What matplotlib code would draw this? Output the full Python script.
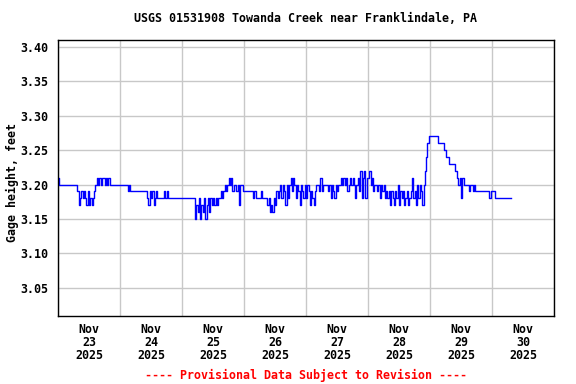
import numpy as np
import matplotlib
matplotlib.use("Agg")
import matplotlib.pyplot as plt
import matplotlib.dates as mdates

# gage height readings, every 30 minutes from Nov 23 00:00,
# stored as hundredths of a foot above 3.00 ft
nov23 = [21, 20, 20, 20, 20, 20, 20, 20, 20, 20, 20, 20, 20, 20, 20, 19,
         17, 18, 19, 18, 19, 18, 17, 19, 17, 18, 17, 18, 19, 20, 21, 20,
         21, 20, 21, 21, 20, 21, 20, 21, 20, 20, 20, 20, 20, 20, 20, 20]
nov24 = [20, 20, 20, 20, 20, 20, 19, 20, 19, 19, 19, 19, 19, 19, 19, 19,
         19, 19, 19, 19, 19, 18, 17, 19, 18, 19, 17, 18, 19, 18, 18, 18,
         18, 18, 19, 18, 19, 18, 18, 18, 18, 18, 18, 18, 18, 18, 18, 18]
nov25 = [18, 18, 18, 18, 18, 18, 18, 18, 18, 18, 15, 17, 16, 18, 15, 17,
         16, 18, 15, 17, 18, 16, 18, 17, 18, 17, 18, 17, 18, 18, 19, 18,
         19, 20, 19, 20, 21, 20, 21, 19, 20, 20, 19, 20, 17, 20, 20, 19]
nov26 = [19, 19, 19, 19, 19, 19, 19, 18, 19, 18, 18, 18, 18, 19, 18, 18,
         18, 18, 17, 18, 16, 17, 16, 18, 17, 19, 18, 19, 20, 18, 20, 19,
         17, 20, 18, 20, 21, 19, 21, 20, 18, 20, 19, 17, 20, 19, 18, 20]
nov27 = [18, 20, 19, 17, 19, 18, 17, 19, 20, 20, 19, 21, 19, 20, 20, 20,
         20, 19, 20, 18, 20, 19, 18, 20, 19, 20, 20, 21, 20, 21, 20, 21,
         19, 20, 21, 20, 21, 20, 18, 20, 21, 19, 22, 18, 21, 22, 18, 21]
nov28 = [21, 22, 20, 21, 19, 20, 20, 19, 20, 18, 20, 19, 20, 18, 19, 18,
         19, 17, 19, 18, 17, 19, 18, 20, 17, 19, 18, 19, 17, 18, 19, 17,
         18, 19, 21, 18, 19, 17, 20, 18, 20, 19, 17, 20, 22, 24, 26, 27]
nov29 = [27, 27, 27, 27, 27, 27, 26, 26, 26, 26, 26, 25, 24, 24, 24, 23,
         23, 23, 23, 22, 22, 21, 20, 21, 18, 21, 20, 20, 20, 20, 19, 20,
         20, 19, 20, 19, 19, 19, 19, 19, 19, 19, 19, 19, 19, 19, 18, 19]
nov30 = [19, 19, 18, 18, 18, 18, 18, 18, 18, 18, 18, 18, 18, 18, 18, 18]

day_labels = ["Nov\n23\n2025", "Nov\n24\n2025", "Nov\n25\n2025", "Nov\n26\n2025",
              "Nov\n27\n2025", "Nov\n28\n2025", "Nov\n29\n2025", "Nov\n30\n2025"]
y_ticks = [3.05, 3.10, 3.15, 3.20, 3.25, 3.30, 3.35, 3.40]

vals = nov23 + nov24 + nov25 + nov26 + nov27 + nov28 + nov29 + nov30
height = 3.0 + np.array(vals) / 100.0
times = np.datetime64("2025-11-23T00:00") + np.arange(len(vals)) * np.timedelta64(30, "m")

FONT = "DejaVu Sans Mono"
fs = 8.4

fig = plt.figure(figsize=(5.76, 3.84), dpi=100)
ax = fig.add_axes([58 / 576, 1 - 316 / 384, 496 / 576, 276 / 384])

ax.plot(times, height, color="#0000ff", linewidth=1.0, drawstyle="steps-post")

ax.set_xlim(np.datetime64("2025-11-23T00:00"), np.datetime64("2025-12-01T00:00"))
ax.set_ylim(3.009, 3.41)

# gridlines at midnight, labels at noon
ax.xaxis.set_major_locator(mdates.DayLocator())
ax.xaxis.set_major_formatter(plt.NullFormatter())
noon = np.datetime64("2025-11-23T12:00") + np.arange(8) * np.timedelta64(1, "D")
ax.set_xticks(mdates.date2num(noon), minor=True)
ax.set_xticklabels(day_labels, minor=True, fontfamily=FONT, fontweight="bold",
                   fontsize=fs, linespacing=1.0)
ax.set_yticks(y_ticks)
ax.set_yticklabels(["%.2f" % v for v in y_ticks], fontfamily=FONT,
                   fontweight="bold", fontsize=fs)
ax.tick_params(axis="both", which="both", length=0)
ax.tick_params(axis="x", which="minor", pad=5)
ax.tick_params(axis="y", pad=7)

ax.grid(True, which="major", color="#c8c8c8", linewidth=1.0)
ax.set_axisbelow(True)
for s in ax.spines.values():
    s.set_color("black")
    s.set_linewidth(1.0)

fig.text(306 / 576, 1 - 19 / 384, "USGS 01531908 Towanda Creek near Franklindale, PA",
         ha="center", va="center", fontfamily=FONT, fontweight="bold", fontsize=fs)
fig.text(12 / 576, 1 - 183 / 384, "Gage height, feet", rotation=90,
         ha="center", va="center", fontfamily=FONT, fontweight="bold", fontsize=fs)
fig.text(306 / 576, 1 - 375 / 384, "---- Provisional Data Subject to Revision ----",
         ha="center", va="center", color="red", fontfamily=FONT,
         fontweight="bold", fontsize=fs)

fig.savefig("out.png", dpi=100)
